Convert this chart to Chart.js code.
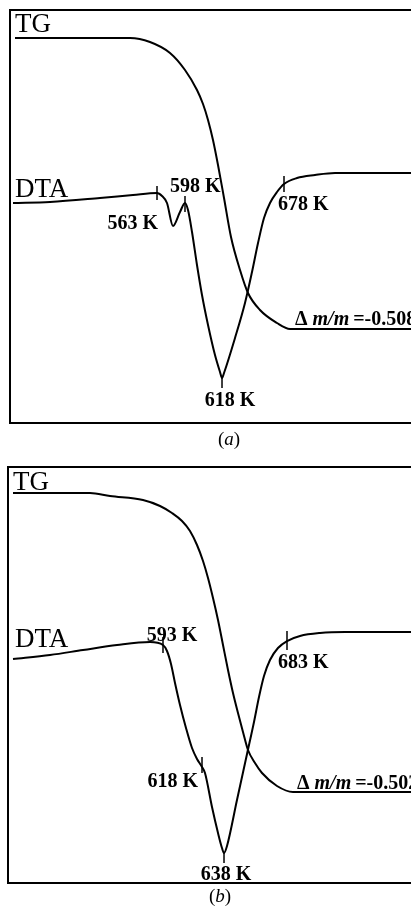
<!DOCTYPE html>
<html>
<head>
<meta charset="utf-8">
<title>TG / DTA curves</title>
<script src="https://cdn.jsdelivr.net/npm/chart.js@4.4.1/dist/chart.umd.min.js"></script>
<style>
  html, body { margin: 0; padding: 0; background: #fff; }
  canvas { display: block; }
</style>
</head>
<body>
<canvas id="chartA" width="411" height="450"></canvas>
<canvas id="chartB" width="411" height="462"></canvas>
<script>
// time and signal are arbitrary units (0-100)

// --- panel (a) ---
const tgTimeA = [1.25, 12.47, 22.44, 29.93, 34.91, 39.90, 43.64, 46.63, 48.13, 49.38, 50.62, 51.87, 53.37, 55.11, 57.36, 59.35, 62.34, 66.58, 69.83, 100];
const tgSignalA = [93.22, 93.22, 93.22, 93.22, 92.25, 89.59, 85.47, 80.63, 77.24, 73.37, 68.52, 62.47, 54.48, 45.04, 37.05, 31.48, 27.36, 24.21, 22.76, 22.76];
const dtaTimeA = [0.75, 9.98, 22.44, 30.67, 36.66, 37.91, 39.15, 40.65, 42.39, 43.64, 44.39, 45.39, 46.63, 47.88, 49.38, 51.12, 52.37, 52.87, 53.37, 56.11, 58.60, 60.35, 61.85, 63.34, 64.84, 66.58, 68.33, 71.57, 76.06, 81.05, 100];
const dtaSignalA = [53.27, 53.51, 54.48, 55.21, 55.69, 54.96, 53.27, 47.70, 51.09, 53.27, 51.57, 46.25, 38.26, 30.99, 23.73, 16.46, 12.35, 10.90, 12.11, 20.58, 29.06, 36.56, 43.58, 49.64, 53.27, 55.93, 57.87, 59.32, 60.05, 60.53, 60.53];
const eventTempA = [563, 598, 618, 678];
const eventTimeA = [36.66, 43.64, 52.87, 68.33];
const eventSignalA = [55.69, 53.27, 10.90, 57.87];
const massLossA = -0.508;

// --- panel (b) ---
const tgTimeB = [1.24, 12.90, 20.35, 25.31, 33.50, 37.72, 40.69, 43.18, 45.16, 46.90, 48.39, 49.63, 50.87, 52.11, 53.35, 54.59, 55.83, 57.07, 58.31, 59.55, 61.29, 63.03, 66.75, 70.72, 100];
const tgSignalB = [93.75, 93.75, 93.75, 93.03, 92.07, 90.63, 88.94, 87.02, 84.62, 81.25, 77.40, 73.32, 68.51, 63.22, 57.21, 51.20, 45.67, 40.87, 36.30, 31.97, 28.85, 26.44, 23.32, 21.88, 21.88];
const dtaTimeB = [1.24, 10.42, 18.61, 27.05, 35.24, 38.46, 39.45, 40.45, 41.44, 42.68, 44.17, 45.66, 46.90, 48.14, 48.88, 50.62, 52.11, 53.10, 53.60, 54.34, 56.82, 59.31, 61.04, 62.28, 63.52, 65.01, 66.99, 69.23, 72.46, 77.42, 83.62, 100];
const dtaSignalB = [53.85, 54.81, 56.01, 57.21, 57.93, 57.21, 55.77, 52.64, 48.08, 42.79, 37.26, 32.45, 29.81, 27.88, 26.44, 18.27, 12.02, 8.41, 7.21, 8.89, 19.95, 31.01, 38.70, 44.71, 49.76, 53.61, 56.49, 58.17, 59.38, 60.10, 60.34, 60.34];
const eventTempB = [593, 618, 638, 683];
const eventTimeB = [38.46, 48.14, 53.60, 69.23];
const eventSignalB = [57.21, 27.88, 7.21, 58.17];
const massLossB = -0.502;

const SERIF = '"Liberation Serif", "Times New Roman", serif';

function toPoints(xs, ys) {
    return xs.map((x, i) => ({ x: x, y: ys[i] }));
}

// draws curve names, event ticks, temperatures, mass loss and caption
const thermoMarks = {
    id: 'thermoMarks',
    afterDatasetsDraw(chart, args, opts) {
        const ctx = chart.ctx;
        const X = v => chart.scales.x.getPixelForValue(v);
        const Y = v => chart.scales.y.getPixelForValue(v);
        ctx.save();
        ctx.fillStyle = '#000';
        ctx.strokeStyle = '#000';
        ctx.textBaseline = 'alphabetic';

        // TG / DTA names
        ctx.font = '27px ' + SERIF;
        ctx.textAlign = 'left';
        chart.data.datasets.forEach((ds, i) => {
            const p = ds.data[0];
            ctx.fillText(ds.label, X(p.x) + opts.nameOffset[i][0], Y(p.y) + opts.nameOffset[i][1]);
        });

        // DTA events
        ctx.lineWidth = 1.5;
        ctx.font = 'bold 20px ' + SERIF;
        opts.temps.forEach((t, i) => {
            const ex = X(opts.times[i]);
            const ey = Y(opts.signals[i]);
            const tk = opts.tick[i];
            ctx.beginPath();
            ctx.moveTo(ex, ey - tk[0]);
            ctx.lineTo(ex, ey + tk[1]);
            ctx.stroke();
            const pl = opts.place[i];
            ctx.textAlign = pl[2];
            ctx.fillText(t + ' K', ex + pl[0], ey + pl[1]);
        });

        // mass loss, placed where the TG plateau starts
        const tg = chart.data.datasets[0].data;
        const endY = tg[tg.length - 1].y;
        const start = tg.find(p => p.y === endY);
        let lx = X(start.x) + opts.lossOffset[0];
        const ly = Y(start.y) + opts.lossOffset[1];
        ctx.textAlign = 'left';
        const parts = [
            ['bold 20px ' + SERIF, '\u0394', 5],
            ['bold italic 20px ' + SERIF, 'm/m', 4],
            ['bold 20px ' + SERIF, '=' + opts.loss.toFixed(3), 0]
        ];
        parts.forEach(([font, txt, gap]) => {
            ctx.font = font;
            ctx.fillText(txt, lx, ly);
            lx += ctx.measureText(txt).width + gap;
        });

        // caption (a) / (b)
        const cap = [
            ['19px ' + SERIF, '('],
            ['italic 19px ' + SERIF, opts.caption],
            ['19px ' + SERIF, ')']
        ];
        let w = 0;
        cap.forEach(([font, txt]) => { ctx.font = font; w += ctx.measureText(txt).width; });
        let cx = opts.captionX - w / 2;
        const cy = chart.chartArea.bottom + opts.captionDy;
        cap.forEach(([font, txt]) => {
            ctx.font = font;
            ctx.fillText(txt, cx, cy);
            cx += ctx.measureText(txt).width;
        });
        ctx.restore();
    }
};

function frameAxis(position) {
    return {
        type: 'linear',
        position: position,
        min: 0,
        max: 100,
        display: true,
        ticks: { display: false },
        grid: { display: false, drawTicks: false },
        border: { display: true, color: '#000', width: 2 }
    };
}

function makeChart(id, tgX, tgY, dtaX, dtaY, padding, marks) {
    const line = {
        borderColor: '#000',
        borderWidth: 2,
        pointRadius: 0,
        fill: false,
        cubicInterpolationMode: 'monotone'
    };
    return new Chart(document.getElementById(id).getContext('2d'), {
        type: 'line',
        data: {
            datasets: [
                Object.assign({ label: 'TG', data: toPoints(tgX, tgY) }, line),
                Object.assign({ label: 'DTA', data: toPoints(dtaX, dtaY) }, line)
            ]
        },
        options: {
            responsive: false,
            animation: false,
            layout: { padding: padding },
            scales: {
                x: frameAxis('bottom'),
                xTop: frameAxis('top'),
                y: frameAxis('left')
            },
            plugins: {
                legend: { display: false },
                tooltip: { enabled: false },
                thermoMarks: marks
            }
        },
        plugins: [thermoMarks]
    });
}

makeChart('chartA', tgTimeA, tgSignalA, dtaTimeA, dtaSignalA,
    { left: 10, top: 10, right: 0, bottom: 27 },
    {
        temps: eventTempA,
        times: eventTimeA,
        signals: eventSignalA,
        tick: [[7, 7], [7, 9], [0, 10], [8, 8]],
        place: [[1, 36, 'right'], [-15, -11, 'left'], [8, 28, 'center'], [-6, 26, 'left']],
        nameOffset: [[0, -6], [2, -6]],
        loss: massLossA,
        lossOffset: [5, -4],
        caption: 'a',
        captionX: 229,
        captionDy: 22
    });

makeChart('chartB', tgTimeB, tgSignalB, dtaTimeB, dtaSignalB,
    { left: 8, top: 17, right: 0, bottom: 29 },
    {
        temps: eventTempB,
        times: eventTimeB,
        signals: eventSignalB,
        tick: [[8, 8], [10, 6], [0, 10], [10, 9]],
        place: [[9, -4, 'center'], [-4, 20, 'right'], [2, 27, 'center'], [-9, 27, 'left']],
        nameOffset: [[0, -3], [2, -12]],
        loss: massLossB,
        lossOffset: [4, -3],
        caption: 'b',
        captionX: 220,
        captionDy: 19
    });
</script>
</body>
</html>
